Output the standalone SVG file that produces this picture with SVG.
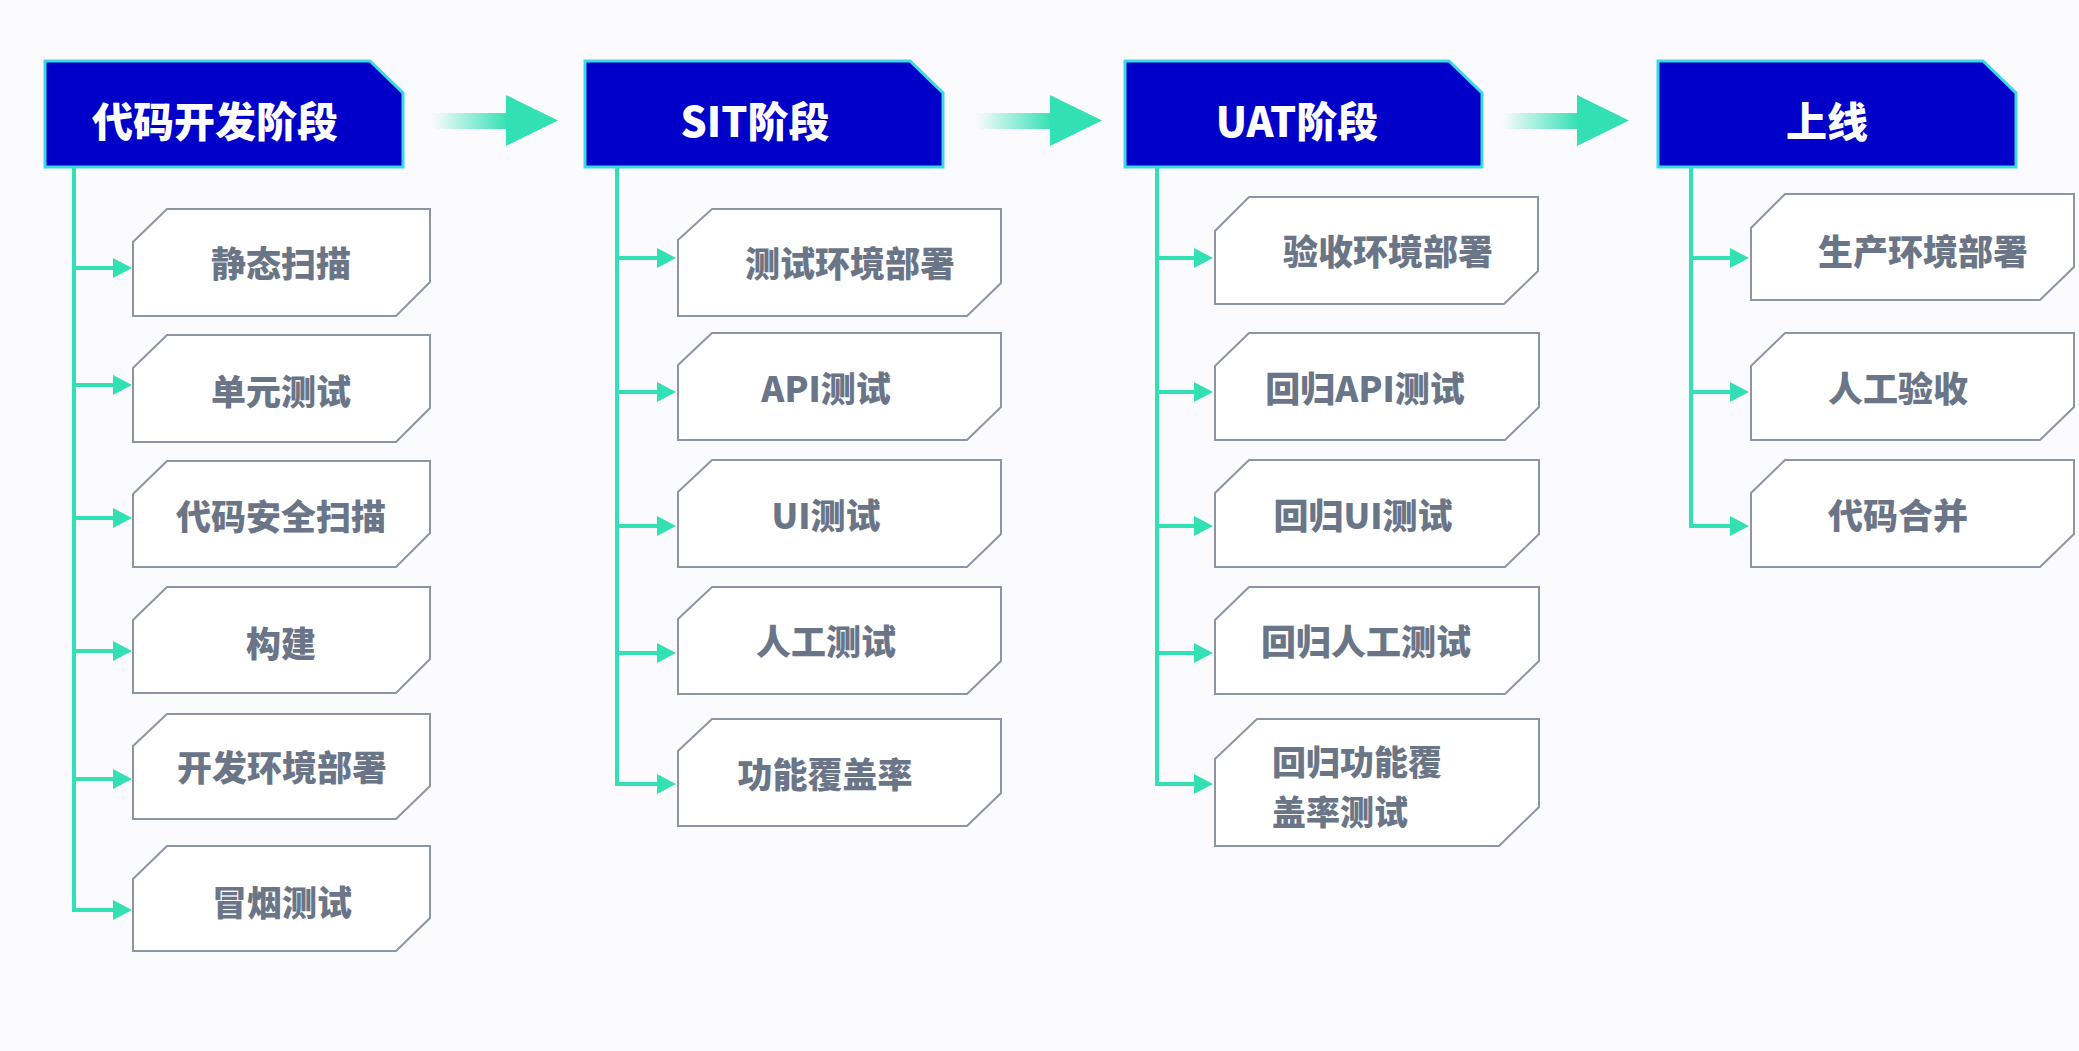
<svg xmlns="http://www.w3.org/2000/svg" width="2079" height="1051" viewBox="0 0 2079 1051">
<defs>
<style>
.hdr{fill:#0000c8;stroke:#3cd8e6;stroke-width:3;stroke-linejoin:miter}
.htxt{fill:#ffffff;font-family:"Noto Sans CJK SC","Liberation Sans",sans-serif;font-weight:900;font-size:41px;text-anchor:middle}
.box{fill:#ffffff;stroke:#8d95a4;stroke-width:2}
.btxt{fill:#6a7587;font-family:"Noto Sans CJK SC","Liberation Sans",sans-serif;font-weight:900;font-size:35px;text-anchor:middle}
.btxtl{fill:#6a7587;font-family:"Noto Sans CJK SC","Liberation Sans",sans-serif;font-weight:900;font-size:34px}
.ln{fill:none;stroke:#33e0b4;stroke-width:4;stroke-linejoin:miter}
.head{fill:#33e0b4}
</style>
<linearGradient id="fade" x1="0" y1="0" x2="1" y2="0">
<stop offset="0" stop-color="#33e0b4" stop-opacity="0"/>
<stop offset="1" stop-color="#33e0b4" stop-opacity="1"/>
</linearGradient>
</defs>
<rect x="0" y="0" width="2079" height="1051" fill="#fbfbfd"/>

<g id="connectors">
<!-- stage arrows -->
<rect x="432" y="113" width="76" height="16" fill="url(#fade)"/>
<polygon class="head" points="506,95 558,120.5 506,146"/>
<rect x="976" y="113" width="76" height="16" fill="url(#fade)"/>
<polygon class="head" points="1050,95 1102,120.5 1050,146"/>
<rect x="1502" y="113" width="77" height="16" fill="url(#fade)"/>
<polygon class="head" points="1577,95 1629,120.5 1577,146"/>
<!-- column 1 -->
<path class="ln" d="M74,167 V910 H114"/>
<path class="ln" d="M74,268 H114 M74,385 H114 M74,518 H114 M74,651 H114 M74,779 H114"/>
<polygon class="head" points="113,258 132,268 113,278"/>
<polygon class="head" points="113,375 132,385 113,395"/>
<polygon class="head" points="113,508 132,518 113,528"/>
<polygon class="head" points="113,641 132,651 113,661"/>
<polygon class="head" points="113,769 132,779 113,789"/>
<polygon class="head" points="113,900 132,910 113,920"/>
<!-- column 2 -->
<path class="ln" d="M617,167 V784 H659"/>
<path class="ln" d="M617,258 H659 M617,392 H659 M617,526 H659 M617,653 H659"/>
<polygon class="head" points="657,248 676,258 657,268"/>
<polygon class="head" points="657,382 676,392 657,402"/>
<polygon class="head" points="657,516 676,526 657,536"/>
<polygon class="head" points="657,643 676,653 657,663"/>
<polygon class="head" points="657,774 676,784 657,794"/>
<!-- column 3 -->
<path class="ln" d="M1157,167 V784 H1196"/>
<path class="ln" d="M1157,258 H1196 M1157,392 H1196 M1157,526 H1196 M1157,653 H1196"/>
<polygon class="head" points="1194,248 1213,258 1194,268"/>
<polygon class="head" points="1194,382 1213,392 1194,402"/>
<polygon class="head" points="1194,516 1213,526 1194,536"/>
<polygon class="head" points="1194,643 1213,653 1194,663"/>
<polygon class="head" points="1194,774 1213,784 1194,794"/>
<!-- column 4 -->
<path class="ln" d="M1691,167 V526 H1732"/>
<path class="ln" d="M1691,258 H1732 M1691,392 H1732"/>
<polygon class="head" points="1730,248 1749,258 1730,268"/>
<polygon class="head" points="1730,382 1749,392 1730,402"/>
<polygon class="head" points="1730,516 1749,526 1730,536"/>
</g>

<!-- stage headers -->
<g id="stage-dev">
<polygon class="hdr" points="45,61 370,61 403,93 403,167 45,167"/>
<text class="htxt" x="215" y="137">代码开发阶段</text>
</g>
<g id="stage-sit">
<polygon class="hdr" points="585,61 910,61 943,93 943,167 585,167"/>
<text class="htxt" x="755" y="137">SIT阶段</text>
</g>
<g id="stage-uat">
<polygon class="hdr" points="1125,61 1449,61 1482,93 1482,167 1125,167"/>
<text class="htxt" x="1297" y="137">UAT阶段</text>
</g>
<g id="stage-prod">
<polygon class="hdr" points="1658,61 1983,61 2016,93 2016,167 1658,167"/>
<text class="htxt" x="1827" y="137">上线</text>
</g>

<!-- column 1 boxes -->
<g id="dev-1">
<polygon class="box" points="133,242 167,209 430,209 430,282 396,316 133,316"/>
<text class="btxt" x="281" y="277">静态扫描</text>
</g>
<g id="dev-2">
<polygon class="box" points="133,368 167,335 430,335 430,408 396,442 133,442"/>
<text class="btxt" x="281" y="405">单元测试</text>
</g>
<g id="dev-3">
<polygon class="box" points="133,494 167,461 430,461 430,533 396,567 133,567"/>
<text class="btxt" x="281" y="530">代码安全扫描</text>
</g>
<g id="dev-4">
<polygon class="box" points="133,620 167,587 430,587 430,659 396,693 133,693"/>
<text class="btxt" x="281" y="657">构建</text>
</g>
<g id="dev-5">
<polygon class="box" points="133,746 167,714 430,714 430,786 396,819 133,819"/>
<text class="btxt" x="282" y="781">开发环境部署</text>
</g>
<g id="dev-6">
<polygon class="box" points="133,879 167,846 430,846 430,918 396,951 133,951"/>
<text class="btxt" x="282" y="916">冒烟测试</text>
</g>

<!-- column 2 boxes -->
<g id="sit-1">
<polygon class="box" points="678,240 712,209 1001,209 1001,283 967,316 678,316"/>
<text class="btxt" x="850" y="277">测试环境部署</text>
</g>
<g id="sit-2">
<polygon class="box" points="678,365 712,333 1001,333 1001,407 967,440 678,440"/>
<text class="btxt" x="826" y="402">API测试</text>
</g>
<g id="sit-3">
<polygon class="box" points="678,492 712,460 1001,460 1001,534 967,567 678,567"/>
<text class="btxt" x="826" y="529">UI测试</text>
</g>
<g id="sit-4">
<polygon class="box" points="678,619 712,587 1001,587 1001,661 967,694 678,694"/>
<text class="btxt" x="826" y="655">人工测试</text>
</g>
<g id="sit-5">
<polygon class="box" points="678,751 712,719 1001,719 1001,793 967,826 678,826"/>
<text class="btxt" x="825" y="788">功能覆盖率</text>
</g>

<!-- column 3 boxes -->
<g id="uat-1">
<polygon class="box" points="1215,231 1249,197 1538,197 1538,271 1504,304 1215,304"/>
<text class="btxt" x="1388" y="265">验收环境部署</text>
</g>
<g id="uat-2">
<polygon class="box" points="1215,366 1249,333 1539,333 1539,407 1505,440 1215,440"/>
<text class="btxt" x="1365" y="402">回归API测试</text>
</g>
<g id="uat-3">
<polygon class="box" points="1215,493 1249,460 1539,460 1539,534 1505,567 1215,567"/>
<text class="btxt" x="1363" y="529">回归UI测试</text>
</g>
<g id="uat-4">
<polygon class="box" points="1215,620 1249,587 1539,587 1539,661 1505,694 1215,694"/>
<text class="btxt" x="1366" y="655">回归人工测试</text>
</g>
<g id="uat-5">
<polygon class="box" points="1215,759 1257,719 1539,719 1539,807 1499,846 1215,846"/>
<text class="btxtl" x="1272" y="775"><tspan x="1272" y="775">回归功能覆</tspan><tspan x="1272" y="825">盖率测试</tspan></text>
</g>

<!-- column 4 boxes -->
<g id="prod-1">
<polygon class="box" points="1751,228 1785,194 2074,194 2074,267 2040,300 1751,300"/>
<text class="btxt" x="1923" y="265">生产环境部署</text>
</g>
<g id="prod-2">
<polygon class="box" points="1751,366 1785,333 2074,333 2074,407 2040,440 1751,440"/>
<text class="btxt" x="1898" y="402">人工验收</text>
</g>
<g id="prod-3">
<polygon class="box" points="1751,493 1785,460 2074,460 2074,534 2040,567 1751,567"/>
<text class="btxt" x="1898" y="529">代码合并</text>
</g>
</svg>
